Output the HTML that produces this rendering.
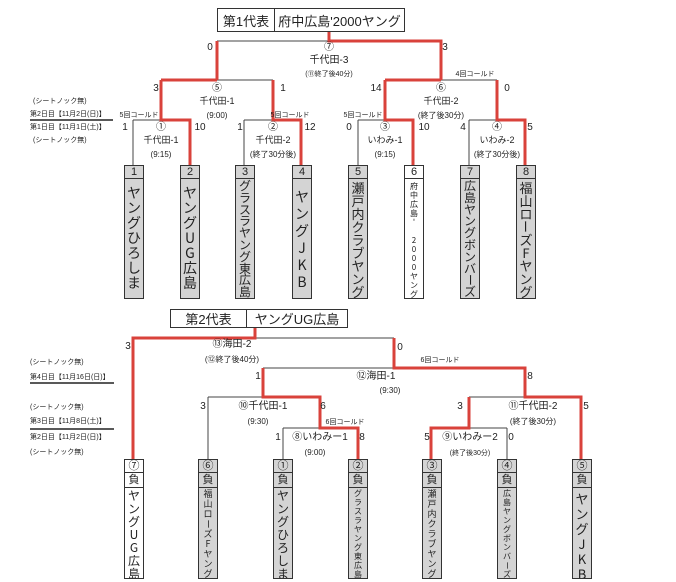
<!DOCTYPE html>
<html><head><meta charset="utf-8"><style>
body{margin:0;background:#fff;}
#w{position:relative;width:676px;height:582px;overflow:hidden;font-family:"Liberation Sans","Noto Sans CJK JP",sans-serif;color:#222;}
svg{position:absolute;left:0;top:0;}
.b{position:absolute;border:1px solid #333;background:#d4d4d4;box-sizing:border-box;overflow:hidden;}
.n{border-bottom:1px solid #333;text-align:center;font-size:11px;line-height:12px;height:13px;box-sizing:border-box;}
.v{text-align:center;white-space:nowrap;font-family:"Noto Sans CJK JP",sans-serif;}
.v span{display:block;overflow:visible;}
.r{transform:rotate(90deg);}
.hb{position:absolute;border:1px solid #333;background:#fff;box-sizing:border-box;display:flex;font-size:13px;align-items:center;}
.hb div{height:100%;display:flex;align-items:center;justify-content:center;}
</style></head><body><div id="w">
<svg width="676" height="582" font-family="Liberation Sans, Noto Sans CJK JP, sans-serif" fill="#222">
<g stroke="#444" stroke-width="1" fill="none">
<path d="M217 41H329M441 80H497M217 80H273M133 120H161M133 120V165M244 120H273M244 120V165M358 120H385M358 120V165M469 120H497M469 120V165"/>
<path d="M255 338H394M263 368H394M208 397H263M208 397V459M283 428H320M283 428V459M469 397H525M469 428H507M507 428V459"/>
</g>
<g stroke="#d9423b" stroke-width="3" fill="none">
<path d="M329 31V41H441V80M217 41V80M161 80H217M161 80V120H190V165M273 80V120H301V165M385 80H441M385 80V120H413V165M497 80V120H525V165"/>
<path d="M255 327V338H133V459M394 338V368H525V397H581V459M263 368V397H320V428H358V459M469 397V428H431V459"/>
</g>
<g font-size="10" text-anchor="middle">
<text x="210" y="50">0</text><text x="445" y="50">3</text>
<text x="329" y="50">⑦</text><text x="329" y="63">千代田-3</text><text x="329" y="76" font-size="7">(⑪終了後40分)</text>
<text x="156" y="91">3</text><text x="217" y="91">⑤</text><text x="283" y="91">1</text>
<text x="217" y="104" font-size="9">千代田-1</text><text x="217" y="118" font-size="8">(9:00)</text>
<text x="376" y="91">14</text><text x="441" y="91">⑥</text><text x="507" y="91">0</text>
<text x="475" y="76" font-size="7">4回コールド</text>
<text x="441" y="104" font-size="9">千代田-2</text><text x="441" y="118" font-size="8">(終了後30分)</text>
<text x="139" y="117" font-size="7">5回コールド</text><text x="290" y="117" font-size="7">5回コールド</text><text x="363" y="117" font-size="7">5回コールド</text>
<text x="125" y="130">1</text><text x="161" y="130">①</text><text x="200" y="130">10</text>
<text x="161" y="143" font-size="9">千代田-1</text><text x="161" y="157" font-size="8">(9:15)</text>
<text x="240" y="130">1</text><text x="273" y="130">②</text><text x="310" y="130">12</text>
<text x="273" y="143" font-size="9">千代田-2</text><text x="273" y="157" font-size="8">(終了30分後)</text>
<text x="349" y="130">0</text><text x="385" y="130">③</text><text x="424" y="130">10</text>
<text x="385" y="143" font-size="9">いわみ-1</text><text x="385" y="157" font-size="8">(9:15)</text>
<text x="463" y="130">4</text><text x="497" y="130">④</text><text x="530" y="130">5</text>
<text x="497" y="143" font-size="9">いわみ-2</text><text x="497" y="157" font-size="8">(終了30分後)</text>
</g>
<g font-size="7" text-anchor="start">
<text x="33" y="103">(シートノック無)</text>
<text x="30" y="116">第2日目【11月2日(日)】</text>
<text x="30" y="129">第1日目【11月1日(土)】</text>
<text x="33" y="142">(シートノック無)</text>
<text x="30" y="364">(シートノック無)</text>
<text x="30" y="379">第4日目【11月16日(日)】</text>
<text x="30" y="409">(シートノック無)</text>
<text x="30" y="423">第3日目【11月8日(土)】</text>
<text x="30" y="439">第2日目【11月2日(日)】</text>
<text x="30" y="454">(シートノック無)</text>
</g>
<g stroke="#222" stroke-width="1.5"><path d="M30 120H113M30 383H114M30 429H114"/></g>
<g font-size="10" text-anchor="middle">
<text x="128" y="349">3</text><text x="232" y="347">⑬海田-2</text><text x="232" y="362" font-size="8">(⑫終了後40分)</text>
<text x="400" y="350">0</text><text x="440" y="362" font-size="7">6回コールド</text>
<text x="376" y="379">⑫海田-1</text><text x="390" y="393" font-size="8">(9:30)</text>
<text x="530" y="379">8</text><text x="258" y="379">1</text>
<text x="203" y="409">3</text><text x="263" y="409">⑩千代田-1</text><text x="258" y="424" font-size="8">(9:30)</text><text x="323" y="409">6</text>
<text x="345" y="424" font-size="7">6回コールド</text>
<text x="278" y="440">1</text><text x="320" y="440">⑧いわみー1</text><text x="315" y="455" font-size="8">(9:00)</text><text x="362" y="440">8</text>
<text x="460" y="409">3</text><text x="533" y="409">⑪千代田-2</text><text x="533" y="424" font-size="8">(終了後30分)</text><text x="586" y="409">5</text>
<text x="427" y="440">5</text><text x="470" y="440">⑨いわみー2</text><text x="470" y="455" font-size="7">(終了後30分)</text><text x="511" y="440">0</text>
</g>
</svg>
<div class="hb" style="left:217px;top:8px;width:188px;height:24px;"><div style="width:56px;border-right:1px solid #333;">第1代表</div><div style="flex:1">府中広島'2000ヤング</div></div>
<div class="hb" style="left:170px;top:309px;width:178px;height:19px;"><div style="width:75px;border-right:1px solid #333;">第2代表</div><div style="flex:1">ヤングUG広島</div></div>

<div class="b" style="left:124px;top:165px;width:20px;height:134px"><div class="n">1</div><div class="v" style="font-size:14px;line-height:15px;margin-top:7px"><span>ヤ</span><span>ン</span><span>グ</span><span>ひ</span><span>ろ</span><span>し</span><span>ま</span></div></div>
<div class="b" style="left:180px;top:165px;width:20px;height:134px"><div class="n">2</div><div class="v" style="font-size:14px;line-height:15px;margin-top:7px"><span>ヤ</span><span>ン</span><span>グ</span><span>U</span><span>G</span><span>広</span><span>島</span></div></div>
<div class="b" style="left:235px;top:165px;width:20px;height:134px"><div class="n">3</div><div class="v" style="font-size:12px;line-height:11.8px;margin-top:1px"><span>グ</span><span>ラ</span><span>ス</span><span>ラ</span><span>ヤ</span><span>ン</span><span>グ</span><span>東</span><span>広</span><span>島</span></div></div>
<div class="b" style="left:292px;top:165px;width:20px;height:134px"><div class="n">4</div><div class="v" style="font-size:14px;line-height:17px;margin-top:10px"><span>ヤ</span><span>ン</span><span>グ</span><span>J</span><span>K</span><span>B</span></div></div>
<div class="b" style="left:348px;top:165px;width:20px;height:134px"><div class="n">5</div><div class="v" style="font-size:13px;line-height:13px;margin-top:2px"><span>瀬</span><span>戸</span><span>内</span><span>ク</span><span>ラ</span><span>ブ</span><span>ヤ</span><span>ン</span><span>グ</span></div></div>
<div class="b" style="left:404px;top:165px;width:20px;height:134px;background:#fff"><div class="v" style="font-size:11px;line-height:12px;height:13px;border-bottom:1px solid #333;box-sizing:border-box;font-family:'Liberation Sans',sans-serif">6</div><div class="v" style="font-size:8px;line-height:9px;margin-top:3px"><span>府</span><span>中</span><span>広</span><span>島</span><span>'</span><span>&nbsp;</span><span>2</span><span>0</span><span>0</span><span>0</span><span>ヤ</span><span>ン</span><span>グ</span></div></div>
<div class="b" style="left:460px;top:165px;width:20px;height:134px"><div class="n">7</div><div class="v" style="font-size:12px;line-height:11.8px;margin-top:1px"><span>広</span><span>島</span><span>ヤ</span><span>ン</span><span>グ</span><span>ボ</span><span>ン</span><span>バ</span><span class="r">ー</span><span>ズ</span></div></div>
<div class="b" style="left:516px;top:165px;width:20px;height:134px"><div class="n">8</div><div class="v" style="font-size:13px;line-height:13px;margin-top:2px"><span>福</span><span>山</span><span>ロ</span><span class="r">ー</span><span>ズ</span><span>F</span><span>ヤ</span><span>ン</span><span>グ</span></div></div>

<div class="b" style="left:124px;top:459px;width:20px;height:120px;background:#fff"><div class="n">⑦</div><div class="n" style="height:15px;line-height:14px">負</div><div class="v" style="font-size:12px;line-height:13px;margin-top:1px"><span>ヤ</span><span>ン</span><span>グ</span><span>U</span><span>G</span><span>広</span><span>島</span></div></div>
<div class="b" style="left:198px;top:459px;width:20px;height:120px"><div class="n">⑥</div><div class="n" style="height:15px;line-height:14px">負</div><div class="v" style="font-size:9px;line-height:10px;margin-top:1px"><span>福</span><span>山</span><span>ロ</span><span class="r">ー</span><span>ズ</span><span>F</span><span>ヤ</span><span>ン</span><span>グ</span></div></div>
<div class="b" style="left:273px;top:459px;width:20px;height:120px"><div class="n">①</div><div class="n" style="height:15px;line-height:14px">負</div><div class="v" style="font-size:12px;line-height:13px;margin-top:1px"><span>ヤ</span><span>ン</span><span>グ</span><span>ひ</span><span>ろ</span><span>し</span><span>ま</span></div></div>
<div class="b" style="left:348px;top:459px;width:20px;height:120px"><div class="n">②</div><div class="n" style="height:15px;line-height:14px">負</div><div class="v" style="font-size:8px;line-height:9px;margin-top:1px"><span>グ</span><span>ラ</span><span>ス</span><span>ラ</span><span>ヤ</span><span>ン</span><span>グ</span><span>東</span><span>広</span><span>島</span></div></div>
<div class="b" style="left:422px;top:459px;width:20px;height:120px"><div class="n">③</div><div class="n" style="height:15px;line-height:14px">負</div><div class="v" style="font-size:9px;line-height:10px;margin-top:1px"><span>瀬</span><span>戸</span><span>内</span><span>ク</span><span>ラ</span><span>ブ</span><span>ヤ</span><span>ン</span><span>グ</span></div></div>
<div class="b" style="left:497px;top:459px;width:20px;height:120px"><div class="n">④</div><div class="n" style="height:15px;line-height:14px">負</div><div class="v" style="font-size:8px;line-height:9px;margin-top:1px"><span>広</span><span>島</span><span>ヤ</span><span>ン</span><span>グ</span><span>ボ</span><span>ン</span><span>バ</span><span class="r">ー</span><span>ズ</span></div></div>
<div class="b" style="left:572px;top:459px;width:20px;height:120px"><div class="n">⑤</div><div class="n" style="height:15px;line-height:14px">負</div><div class="v" style="font-size:13px;line-height:15px;margin-top:3px"><span>ヤ</span><span>ン</span><span>グ</span><span>J</span><span>K</span><span>B</span></div></div>
</div></body></html>
